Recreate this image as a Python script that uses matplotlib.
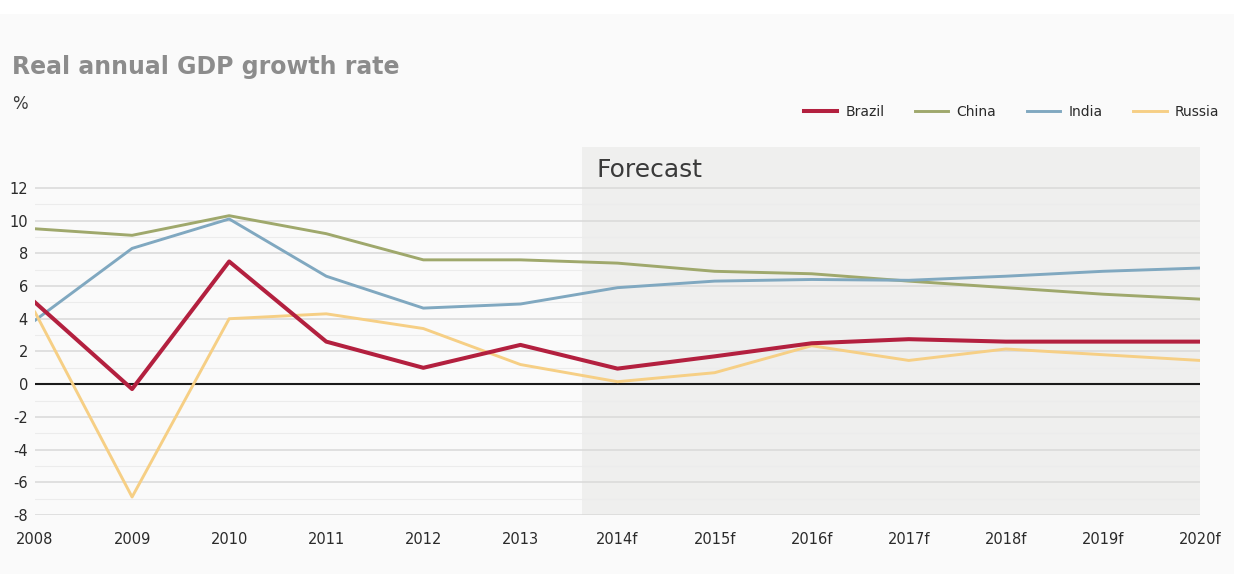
import matplotlib

matplotlib.use("Agg")
import matplotlib.pyplot as plt  # noqa: E402
from matplotlib.patches import Rectangle  # noqa: E402

# Real annual GDP growth, % (f = forecast)
years = ["2008", "2009", "2010", "2011", "2012", "2013", "2014f",
         "2015f", "2016f", "2017f", "2018f", "2019f", "2020f"]
brazil = [5.0, -0.3, 7.5, 2.6, 1.0, 2.4, 0.95, 1.7, 2.5, 2.75, 2.6, 2.6, 2.6]
china = [9.5, 9.1, 10.3, 9.2, 7.6, 7.6, 7.4, 6.9, 6.75, 6.3, 5.9, 5.5, 5.2]
india = [3.9, 8.3, 10.1, 6.6, 4.65, 4.9, 5.9, 6.3, 6.4, 6.35, 6.6, 6.9, 7.1]
russia = [4.4, -6.9, 4.0, 4.3, 3.4, 1.2, 0.15, 0.7, 2.35, 1.45, 2.15, 1.8, 1.45]
yticks = [12, 10, 8, 6, 4, 2, 0, -2, -4, -6, -8]
forecast_start = 5.63

W, H = 1234, 574
fig = plt.figure(figsize=(W / 100, H / 100), dpi=100)
fig.patch.set_facecolor("#fafafa")
fig.add_artist(Rectangle((0, 1 - 14 / H), 1, 14 / H, transform=fig.transFigure,
                         facecolor="white", edgecolor="none", zorder=0))

ax = fig.add_axes([35 / W, 1 - 515 / H, (1200 - 35) / W, (515 - 147) / H])
ax.set_facecolor("#fafafa")
x = list(range(len(years)))
ax.set_xlim(0, len(years) - 1)
ax.set_ylim(-8, 14.5)

ax.axvspan(forecast_start, len(years) - 1, color="#efefee", zorder=0, lw=0)
ax.text(forecast_start + 0.15, 13.1, "Forecast", fontsize=18, color="#3a3a3a",
        ha="left", va="center", zorder=3)

for v in range(-8, 13):
    if v == 0:
        continue
    col, lw = ("#d9d9d9", 1.1) if v % 2 == 0 else ("#ececec", 0.8)
    ax.axhline(v, color=col, lw=lw, zorder=1)
ax.axhline(0, color="#1a1a1a", lw=1.5, zorder=2)

series = [
    ("Brazil", brazil, "#b3203f", 2.9),
    ("China", china, "#9fa86c", 2.1),
    ("India", india, "#80a8c0", 2.1),
    ("Russia", russia, "#f6cf85", 2.1),
]
# Brazil drawn last so it sits on top
for name, vals, color, lw in series:
    ax.plot(x, vals, color=color, lw=lw, label=name,
            zorder=6 if name == "Brazil" else 4)

for s in ax.spines.values():
    s.set_visible(False)
ax.set_yticks(yticks)
ax.set_yticklabels([str(t) for t in yticks])
ax.set_xticks(x)
ax.set_xticklabels(years)
ax.tick_params(axis="both", length=0, labelsize=10.5, labelcolor="#2a2a2a")
ax.tick_params(axis="y", pad=5)
ax.tick_params(axis="x", pad=12)

fig.text(12 / W, 1 - 67 / H, "Real annual GDP growth rate", fontsize=17,
         fontweight="bold", color="#8c8c8c", ha="left", va="center")
fig.text(12 / W, 1 - 104 / H, "%", fontsize=12, color="#3a3a3a",
         ha="left", va="center")

handles, labels = ax.get_legend_handles_labels()
leg = fig.legend(handles, labels, loc="center right", ncol=4, frameon=False,
                 bbox_to_anchor=(1232 / W, 1 - 112 / H), fontsize=10,
                 handlelength=2.4, columnspacing=2.2, handletextpad=0.6)
for t in leg.get_texts():
    t.set_color("#2a2a2a")

fig.savefig("out.png", dpi=100, facecolor=fig.get_facecolor())
